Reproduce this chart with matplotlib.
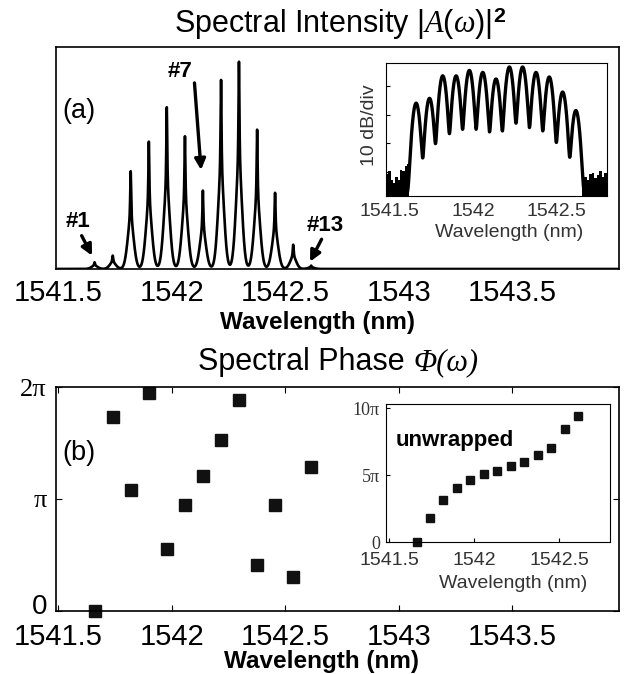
import numpy as np
import matplotlib
matplotlib.use('Agg')
import matplotlib.pyplot as plt
from matplotlib.transforms import ScaledTranslation

plt.rcParams['font.family'] = ['Liberation Sans', 'DejaVu Sans']
plt.rcParams['mathtext.fontset'] = 'custom'
plt.rcParams['mathtext.rm'] = 'Liberation Sans'
plt.rcParams['mathtext.it'] = 'Liberation Serif:italic'
plt.rcParams['mathtext.bf'] = 'Liberation Sans:bold'

# 13 comb lines (nm)
line_wl = [1541.660, 1541.740, 1541.819, 1541.899, 1541.978, 1542.058, 1542.137,
           1542.217, 1542.296, 1542.376, 1542.455, 1542.535, 1542.614]
# linear intensity of each line (fraction of the frame height)
intensity = [0.03, 0.06, 0.44, 0.574, 0.73, 0.597, 0.352,
             0.853, 0.934, 0.627, 0.343, 0.109, 0.015]
# same lines on the OSA trace, dB below the top of the inset
intensity_db = [-14.1, -12.4, -4.5, -4.5, -2.6, -3.3, -5.6,
                -1.4, -1.4, -3.3, -4.9, -10.2, -16.7]
# noise floor at both ends of the OSA trace
floor_left_wl = [1541.480, 1541.494, 1541.508, 1541.522, 1541.536, 1541.550,
                 1541.564, 1541.578, 1541.592, 1541.606, 1541.620]
floor_left_db = [-39, -38, -41, -42, -40, -41, -37.5, -38, -36, -35.5, -35.5]
floor_right_wl = [1542.650, 1542.665, 1542.680, 1542.695, 1542.710, 1542.725,
                  1542.740, 1542.755, 1542.770, 1542.785, 1542.800]
floor_right_db = [-38, -40, -41, -39, -38.5, -40.5, -39.5, -38, -40, -38.5, -38.5]
# spectral phase in units of pi
phase_wrapped = [0.0, 1.734, 1.084, 1.943, 0.552, 0.949, 1.203,
                 1.531, 1.884, 0.412, 0.949, 0.307, 1.287]
phase_unwrapped = [0.0, 1.78, 3.14, 4.06, 4.63, 5.07, 5.32,
                   5.67, 5.97, 6.49, 7.03, 8.42, 9.41]

wl_ticks = [1541.5, 1542, 1542.5, 1543, 1543.5]
wl_tick_labels = ['1541.5', '1542', '1542.5', '1543', '1543.5']
inset_ticks = [1541.5, 1542, 1542.5]
inset_tick_labels = ['1541.5', '1542', '1542.5']


def line_comb(x, heights):
    # narrow core on a small pedestal, like the measured lines
    y = np.zeros_like(x)
    for c, h in zip(line_wl, heights):
        d = x - c
        y += h * (0.55 / (1 + (d / 0.0025) ** 2) + 0.45 * np.exp(-0.5 * (d / 0.014) ** 2))
    return y


def gauss_comb(x, heights, width):
    y = np.zeros_like(x)
    for c, h in zip(line_wl, heights):
        y += h * np.exp(-0.5 * ((x - c) / width) ** 2)
    return y


fig = plt.figure(figsize=(6.27, 6.74), dpi=100)
renderer = fig.canvas.get_renderer()

# ---------------- (a) spectral intensity ----------------
ax1 = fig.add_axes([0.0893, 0.6009, 0.8979, 0.3294])
x = np.linspace(1541.49, 1543.97, 6000)
ax1.plot(x, line_comb(x, intensity), color='k', lw=1.9)
ax1.set_xlim(1541.49, 1543.97)
ax1.set_ylim(0, 1)
ax1.set_yticks([])
ax1.set_xticks(wl_ticks)
ax1.set_xticklabels(wl_tick_labels, fontsize=21)
ax1.tick_params(axis='x', direction='in', length=0, pad=7)
ax1.set_xlabel('Wavelength (nm)', fontsize=17.5, fontweight='bold')
ax1.xaxis.set_label_coords(0.464, -0.189)
for s in ax1.spines.values():
    s.set_linewidth(1.2)

ax1.text(0.011, 0.682, '(a)', transform=ax1.transAxes, fontsize=19.5, va='baseline')

arrow = dict(arrowstyle='-|>', lw=2.4, color='k', mutation_scale=16, shrinkA=0, shrinkB=0)
ax1.annotate('', xy=(1541.649, 0.060), xytext=(1541.603, 0.150), arrowprops=arrow)
ax1.annotate('', xy=(1542.129, 0.446), xytext=(1542.100, 0.838), arrowprops=arrow)
ax1.annotate('', xy=(1542.609, 0.033), xytext=(1542.660, 0.134), arrowprops=arrow)
ax1.text(1541.585, 0.214, '#1', fontsize=16, fontweight='bold', ha='center', va='center')
ax1.text(1542.036, 0.890, '#7', fontsize=16, fontweight='bold', ha='center', va='center')
ax1.text(1542.675, 0.196, '#13', fontsize=16, fontweight='bold', ha='center', va='center')

# inset: OSA trace in dB
ins1 = fig.add_axes([0.6156, 0.7092, 0.3525, 0.1973])
xi = np.linspace(1541.48, 1542.80, 4000)
trace = gauss_comb(xi, 10 ** (np.array(intensity_db) / 10), 0.0122) + 10 ** (-4.6)
ins1.plot(xi, 10 * np.log10(trace), color='k', lw=2.4)
ins1.fill_between(floor_left_wl, floor_left_db, -60, step='post', color='k', lw=0)
ins1.fill_between(floor_right_wl, floor_right_db, -60, step='post', color='k', lw=0)
ins1.set_xlim(1541.48, 1542.80)
ins1.set_ylim(-46.7, 0)
ins1.set_yticks([-38.2, -28.2, -18.2, -8.2])
ins1.set_yticklabels([])
ins1.set_xticks(inset_ticks)
ins1.set_xticklabels(inset_tick_labels, fontsize=14, color='#333')
ins1.tick_params(direction='in', length=3, pad=5)
ins1.tick_params(axis='x', length=0)
ins1.set_xlabel('Wavelength (nm)', fontsize=14, color='#333')
ins1.xaxis.set_label_coords(0.556, -0.211)
ins1.set_ylabel('10 dB/div', fontsize=14, color='#333')
ins1.yaxis.set_label_coords(-0.036, 0.53)

# titles
fig.text(0.542, 0.951, r'Spectral Intensity $|\mathit{A(\omega)}|^{\mathbf{2}}$',
         fontsize=22, ha='center', va='baseline')
ta = fig.text(0, 0.451, 'Spectral Phase ', fontsize=22, va='baseline')
tb = fig.text(0, 0.451, 'Φ(ω)', fontsize=22, va='baseline',
              family='Liberation Serif', style='italic')
wa = ta.get_window_extent(renderer).width
wb = tb.get_window_extent(renderer).width
x0 = 0.539 * fig.bbox.width - (wa + wb) / 2
ta.set_x(x0 / fig.bbox.width)
tb.set_x((x0 + wa) / fig.bbox.width)

# ---------------- (b) spectral phase ----------------
ax2 = fig.add_axes([0.0893, 0.0935, 0.8979, 0.3323])
ax2.plot(line_wl, np.array(phase_wrapped) * np.pi, 's', ms=9, color='#111',
         clip_on=False)
ax2.set_xlim(1541.49, 1543.97)
ax2.set_ylim(0, 2 * np.pi)
ax2.set_xticks(wl_ticks)
ax2.set_xticklabels(wl_tick_labels, fontsize=21)
ax2.set_yticks([0, np.pi, 2 * np.pi])
ax2.set_yticklabels(['0', 'π', '2π'], fontsize=20)
ax2.tick_params(direction='in', length=4, top=True, right=True)
ax2.tick_params(axis='x', pad=8.6)
ax2.tick_params(axis='y', pad=6.5)
ylabels = ax2.get_yticklabels()
for lbl in ylabels[1:]:
    lbl.set_family('Liberation Serif')
    lbl.set_fontsize(19)
ylabels[0].set_transform(ylabels[0].get_transform() +
                         ScaledTranslation(0, 5 / 72, fig.dpi_scale_trans))
ax2.set_xlabel('Wavelength (nm)', fontsize=17.5, fontweight='bold')
ax2.xaxis.set_label_coords(0.472, -0.172)
for s in ax2.spines.values():
    s.set_linewidth(1.2)
ax2.text(0.011, 0.672, '(b)', transform=ax2.transAxes, fontsize=19.5, va='baseline')

# inset: unwrapped phase
ins2 = fig.add_axes([0.6156, 0.1958, 0.357, 0.2047])
ins2.plot(line_wl, np.array(phase_unwrapped) * np.pi, 's', ms=6, color='#111',
          clip_on=False)
ins2.set_xlim(1541.48, 1542.80)
ins2.set_ylim(0, 10.3 * np.pi)
ins2.set_xticks(inset_ticks)
ins2.set_xticklabels(inset_tick_labels, fontsize=14, color='#333')
ins2.set_yticks([0, 5 * np.pi, 10 * np.pi])
ins2.set_yticklabels(['0', '5π', '10π'], fontsize=13, color='#333',
                     family='Liberation Serif')
ins2.tick_params(direction='in', length=3)
ins2.tick_params(axis='x', pad=7)
ins2.tick_params(axis='y', pad=4.3)
ins2.set_xlabel('Wavelength (nm)', fontsize=14, color='#333')
ins2.xaxis.set_label_coords(0.567, -0.239)
ins2.text(0.045, 0.696, 'unwrapped', transform=ins2.transAxes, fontsize=16,
          fontweight='bold', va='baseline')

fig.savefig('out.png', dpi=100)
